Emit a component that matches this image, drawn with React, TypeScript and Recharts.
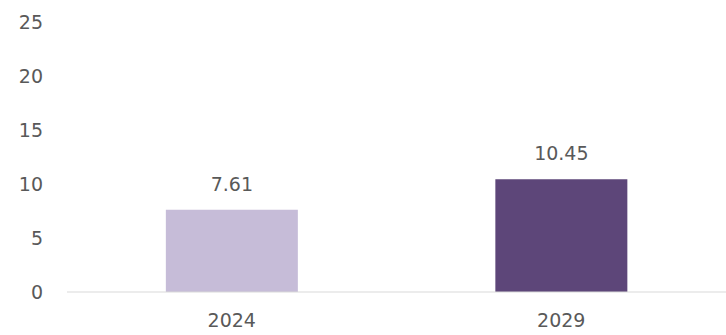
import React from 'react';
import { BarChart, Bar, XAxis, YAxis, LabelList, Cell } from 'recharts';

const years = ['2024', '2029'];
const values = [7.61, 10.45];
const barColors = ['#c6bcd8', '#5d4679'];
const yTicks = [0, 5, 10, 15, 20, 25];

const data = years.map((year, i) => ({ year, value: values[i] }));

const textStyle = { fill: '#595959', fontSize: 19, fontFamily: 'DejaVu Sans' };

const App: React.FC = () => {
  return (
    <div style={{ position: 'absolute', left: 0, top: 0, background: '#fff' }}>
      <BarChart
        width={726}
        height={335}
        data={data}
        margin={{ top: 22, right: 0, bottom: 13, left: 0 }}
        barCategoryGap="30%"
      >
        <XAxis
          dataKey="year"
          height={30}
          axisLine={{ stroke: '#d9d9d9' }}
          tickLine={false}
          tickSize={0}
          tickMargin={22}
          tick={textStyle}
        />
        <YAxis
          width={67}
          domain={[0, 25]}
          ticks={yTicks}
          axisLine={false}
          tickLine={false}
          tickSize={0}
          tickMargin={24}
          tick={textStyle}
        />
        <Bar dataKey="value" isAnimationActive={false}>
          {data.map((d, i) => (
            <Cell key={d.year} fill={barColors[i]} />
          ))}
          <LabelList dataKey="value" position="top" offset={19} style={textStyle} />
        </Bar>
      </BarChart>
    </div>
  );
};

export default App;
